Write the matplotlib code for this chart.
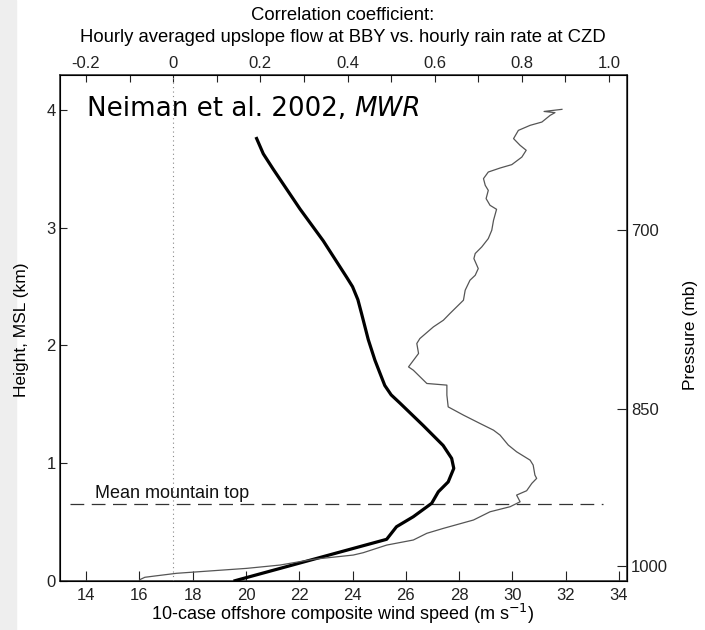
import matplotlib
matplotlib.use('Agg')
import matplotlib.pyplot as plt
from matplotlib.patches import Rectangle

# thick line: 10-case offshore composite wind speed (m/s) vs height (km)
wind_speed = [20.40, 20.65, 21.02, 22.03, 22.90, 23.78, 24.00, 24.20, 24.34, 24.59, 24.84, 25.02, 25.21, 25.45, 25.78,
              26.65, 27.40, 27.72, 27.80, 27.59, 27.22, 26.97, 26.28, 25.65, 25.28, 19.59]
wind_height = [3.76, 3.63, 3.50, 3.16, 2.89, 2.58, 2.50, 2.39, 2.27, 2.05, 1.875, 1.77, 1.66, 1.58, 1.51,
               1.32, 1.15, 1.04, 0.955, 0.84, 0.756, 0.658, 0.544, 0.459, 0.352, 0.0]

# thin line: correlation coefficient vs height (km)
corr = [0.892, 0.851, 0.876, 0.865, 0.846, 0.819, 0.792, 0.781, 0.796, 0.810, 0.800, 0.777,
        0.750, 0.723, 0.712, 0.716, 0.723, 0.718, 0.727, 0.742, 0.735, 0.731, 0.723, 0.708,
        0.693, 0.690, 0.700, 0.693, 0.681, 0.670, 0.666, 0.635, 0.620, 0.597, 0.566, 0.559,
        0.563, 0.540, 0.551, 0.582, 0.628, 0.628, 0.631, 0.666, 0.704, 0.735, 0.750, 0.769,
        0.788, 0.819, 0.826, 0.830, 0.834, 0.823, 0.811, 0.788, 0.796, 0.773, 0.727, 0.689,
        0.620, 0.582, 0.551, 0.490, 0.436, 0.413, 0.322, 0.245, 0.169, 0.008, -0.042, -0.065, -0.076]
corr_height = [4.008, 3.99, 3.98, 3.957, 3.900, 3.872, 3.829, 3.759, 3.702, 3.660, 3.602, 3.538,
               3.509, 3.475, 3.419, 3.362, 3.319, 3.249, 3.192, 3.158, 3.064, 2.980, 2.909, 2.838,
               2.782, 2.739, 2.654, 2.597, 2.555, 2.470, 2.385, 2.272, 2.215, 2.158, 2.059, 2.017,
               1.932, 1.818, 1.790, 1.677, 1.663, 1.578, 1.478, 1.408, 1.337, 1.280, 1.238, 1.153,
               1.096, 1.025, 0.983, 0.898, 0.870, 0.828, 0.765, 0.728, 0.671, 0.629, 0.586, 0.516,
               0.445, 0.403, 0.346, 0.303, 0.238, 0.218, 0.182, 0.133, 0.105, 0.063, 0.040, 0.029, 0.010]

mountain_top = 0.65
pressure_levels = ['700', '850', '1000']
pressure_heights = [2.98, 1.46, 0.125]
speed_ticks = [14, 16, 18, 20, 22, 24, 26, 28, 30, 32, 34]
corr_ticks = [-0.2, 0, 0.2, 0.4, 0.6, 0.8, 1.0]
corr_labels = ['-0.2', '0', '0.2', '0.4', '0.6', '0.8', '1.0']

plt.rcParams['font.family'] = ['Liberation Sans', 'DejaVu Sans']
fig = plt.figure(figsize=(7.05, 6.3), dpi=100)
fig.patches.append(Rectangle((0, 0), 16/705, 1, transform=fig.transFigure, color='#eeeeee', zorder=-10))

ax = fig.add_axes([60/705, 49.3/630, 566.7/705, 505.7/630])
ax.set_xlim(13.02, 34.29)
ax.set_ylim(0, 4.30)
ax.plot(wind_speed, wind_height, color='black', lw=2.3, solid_joinstyle='round', zorder=3)
ax.plot([13.4, 33.4], [mountain_top, mountain_top], color='#333333', lw=0.9, dashes=(11, 6))
ax.text(14.33, 0.70, 'Mean mountain top', fontsize=13, color='#111111')
ax.set_xticks(speed_ticks)
ax.set_yticks([0, 1, 2, 3, 4])
ax.tick_params(direction='in', labelsize=12, colors='#222222', width=0.8)
ax.tick_params(axis='x', length=7, pad=5)
ax.tick_params(axis='y', length=5, pad=3)
for s in ax.spines.values():
    s.set_linewidth(1.2); s.set_color('#333333')

top = ax.twiny()
top.set_xlim(-0.2597, 1.0406)
top.plot(corr, corr_height, color='#555555', lw=0.9, zorder=2)
top.axvline(0, color='#888888', lw=0.8, ls=(0, (1, 3)))
top.set_xticks(corr_ticks)
top.set_xticklabels(corr_labels)
top.set_xticks([-0.1, 0.1, 0.3, 0.5, 0.7, 0.9], minor=True)
top.tick_params(axis='x', which='both', direction='in', length=5, width=0.8, labelsize=12, colors='#222222', pad=3)

right = ax.secondary_yaxis('right')
right.set_yticks(pressure_heights, pressure_levels)
right.tick_params(direction='in', length=7, width=0.8, labelsize=12, colors='#222222', pad=3)

# citation: upright part then italic journal name right after it
t1 = ax.text(0.047, 0.919, 'Neiman et al. 2002, ', transform=ax.transAxes, fontsize=18.8,
             family='DejaVu Sans', va='baseline')
fig.canvas.draw()
x_end = ax.transAxes.inverted().transform((t1.get_window_extent().x1, 0))[0]
ax.text(x_end, 0.919, 'MWR', transform=ax.transAxes, fontsize=18.8, family='DejaVu Sans',
        style='italic', va='baseline')

fig.text(343/705, 1-15/630, 'Correlation coefficient:', ha='center', va='center', fontsize=13.3)
fig.text(343/705, 1-37/630, 'Hourly averaged upslope flow at BBY vs. hourly rain rate at CZD', ha='center', va='center', fontsize=13.3)
fig.text(343/705, 1-614/630, '10-case offshore composite wind speed (m s$^{-1}$)', ha='center', va='center', fontsize=13)
fig.text(22/705, 1-330/630, 'Height, MSL (km)', rotation=90, ha='center', va='center', fontsize=12.5)
fig.text(690/705, 1-335/630, 'Pressure (mb)', rotation=90, ha='center', va='center', fontsize=12.5)
fig.savefig('out.png', dpi=100)
